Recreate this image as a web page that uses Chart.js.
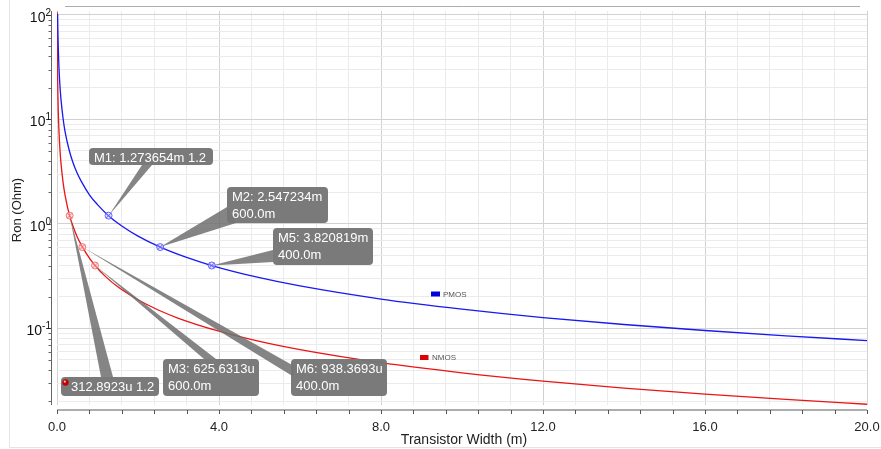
<!DOCTYPE html>
<html>
<head>
<meta charset="utf-8">
<script src="https://cdn.jsdelivr.net/npm/chart.js@4.4.0/dist/chart.umd.min.js"></script>
<style>
  html, body { margin: 0; padding: 0; background: #fff; }
</style>
</head>
<body>
<canvas id="ronChart" width="881" height="449"></canvas>
<script>
// Ron vs transistor width (width in mm)
const pmosWidth = [0.015, 0.02, 0.03, 0.04, 0.06, 0.08, 0.1, 0.15, 0.2, 0.3, 0.4, 0.5, 0.6, 0.8, 1.0, 1.27, 1.6, 2.0, 2.55, 3.2, 3.82, 5.0, 6.0, 8.0, 10.0, 12.0, 14.0, 16.0, 18.0, 20.0];
const pmosRon = [102, 76, 51, 38, 25.5, 19.1, 15.3, 10.2, 7.6, 5.1, 3.8, 3.05, 2.55, 1.9, 1.53, 1.2, 0.955, 0.765, 0.6, 0.478, 0.4, 0.306, 0.255, 0.191, 0.153, 0.127, 0.109, 0.0955, 0.085, 0.0765];

const nmosWidth = [0.0035, 0.005, 0.0075, 0.01, 0.015, 0.02, 0.03, 0.05, 0.075, 0.1, 0.15, 0.2, 0.31, 0.4, 0.5, 0.63, 0.8, 0.94, 1.2, 1.5, 2.0, 2.5, 3.0, 4.0, 5.0, 6.0, 8.0, 10.0, 12.0, 14.0, 16.0, 18.0, 20.0];
const nmosRon = [107, 75, 50, 37.5, 25, 18.8, 12.5, 7.5, 5.0, 3.75, 2.5, 1.88, 1.2, 0.94, 0.75, 0.6, 0.47, 0.4, 0.313, 0.25, 0.188, 0.15, 0.125, 0.094, 0.075, 0.0626, 0.047, 0.0376, 0.0313, 0.0268, 0.0235, 0.0209, 0.0188];

const xTickValues = [0, 4, 8, 12, 16, 20];
const xTickLabels = ['0.0', '4.0', '8.0', '12.0', '16.0', '20.0'];
const yTickExponents = [2, 1, 0, -1];

// markers placed on the curves
const markerSeries = ['PMOS', 'PMOS', 'PMOS', 'NMOS', 'NMOS', 'NMOS'];
const markerWidth = [1.273654, 2.547234, 3.820819, 0.3128923, 0.6256313, 0.9383693];
const markerRon = [1.2, 0.6, 0.4, 1.2, 0.6, 0.4];
const markerText = [
    ['M1: 1.273654m 1.2'],
    ['M2: 2.547234m', '600.0m'],
    ['M5: 3.820819m', '400.0m'],
    ['312.8923u 1.2'],
    ['M3: 625.6313u', '600.0m'],
    ['M6: 938.3693u', '400.0m']
];

// callout box geometry in canvas pixels (x, y, w, h) and where the pointer leaves the box
const calloutLayout = [
    { box: [89, 148, 124, 17], base: [[142, 165], [152, 165]] },
    { box: [227, 187, 101, 36], base: [[227, 207], [236, 223]] },
    { box: [273, 228, 100, 37], base: [[273, 250], [273, 262]] },
    { box: [61, 377, 98, 19], base: [[101, 377], [113, 377]], dot: true },
    { box: [163, 359, 96, 37], base: [[294, 366], [294, 377]] },
    { box: [291, 359, 96, 37], base: [[204, 359], [216, 359]] }
];

const FONT = '"Liberation Sans", Arial, sans-serif';

function toPoints(xs, ys) {
    return xs.map((x, i) => ({ x: x, y: ys[i] }));
}

const decorPlugin = {
    id: 'decor',
    afterDatasetsDraw(chart) {
        const { ctx, scales: { x, y } } = chart;
        ctx.save();

        // pointers
        markerWidth.forEach((w, i) => {
            const px = x.getPixelForValue(w);
            const py = y.getPixelForValue(markerRon[i]);
            const b = calloutLayout[i].base;
            ctx.fillStyle = 'rgba(112,112,112,0.85)';
            ctx.beginPath();
            ctx.moveTo(b[0][0], b[0][1]);
            ctx.lineTo(b[1][0], b[1][1]);
            ctx.lineTo(px, py);
            ctx.closePath();
            ctx.fill();
        });

        // marker glyphs
        markerWidth.forEach((w, i) => {
            const px = x.getPixelForValue(w);
            const py = y.getPixelForValue(markerRon[i]);
            const isP = markerSeries[i] === 'PMOS';
            ctx.strokeStyle = isP ? 'rgba(90,90,255,0.9)' : 'rgba(240,110,110,0.9)';
            ctx.fillStyle = isP ? 'rgba(200,200,255,0.5)' : 'rgba(255,200,200,0.5)';
            ctx.lineWidth = 1;
            ctx.beginPath();
            ctx.arc(px, py, 3.5, 0, Math.PI * 2);
            ctx.fill();
            ctx.stroke();
            ctx.beginPath();
            ctx.moveTo(px - 2.4, py - 2.4); ctx.lineTo(px + 2.4, py + 2.4);
            ctx.moveTo(px + 2.4, py - 2.4); ctx.lineTo(px - 2.4, py + 2.4);
            ctx.stroke();
        });

        // boxes with text
        calloutLayout.forEach((c, i) => {
            const [bx, by, bw, bh] = c.box;
            ctx.fillStyle = 'rgba(118,118,118,0.97)';
            ctx.beginPath();
            ctx.roundRect(bx, by, bw, bh, 4);
            ctx.fill();
            let tx = bx + 5;
            if (c.dot) {
                ctx.fillStyle = '#c40000';
                ctx.beginPath();
                ctx.arc(bx + 4.5, by + 5.5, 3.2, 0, Math.PI * 2);
                ctx.fill();
                ctx.fillStyle = 'rgba(255,255,255,0.8)';
                ctx.beginPath();
                ctx.arc(bx + 3.8, by + 4.6, 1.1, 0, Math.PI * 2);
                ctx.fill();
                tx = bx + 10;
            }
            ctx.fillStyle = '#ffffff';
            ctx.font = '13px ' + FONT;
            ctx.textAlign = 'left';
            ctx.textBaseline = 'alphabetic';
            markerText[i].forEach((line, k) => {
                ctx.fillText(line, tx, by + 14 + k * 17.3);
            });
        });
        ctx.restore();
    },
    afterDraw(chart) {
        const { ctx, chartArea: a, scales: { x, y } } = chart;
        ctx.save();

        // outer panel edges
        ctx.strokeStyle = '#e4e4e4';
        ctx.lineWidth = 1;
        ctx.beginPath();
        ctx.moveTo(9.5, 0); ctx.lineTo(9.5, 447.5); ctx.lineTo(881, 447.5);
        ctx.stroke();
        ctx.strokeStyle = '#a6aeb5';
        ctx.beginPath();
        ctx.moveTo(65, 6.5); ctx.lineTo(860, 6.5);
        ctx.stroke();

        // x axis
        const axY = a.bottom + 5;
        ctx.strokeStyle = '#adadad';
        ctx.lineWidth = 2;
        ctx.beginPath();
        ctx.moveTo(a.left, axY); ctx.lineTo(a.right, axY);
        ctx.stroke();
        ctx.strokeStyle = '#555';
        ctx.lineWidth = 1;
        x.ticks.forEach(t => {
            const px = Math.round(x.getPixelForValue(t.value)) + 0.5;
            ctx.beginPath();
            ctx.moveTo(px, axY); ctx.lineTo(px, axY + 4);
            ctx.stroke();
        });
        ctx.fillStyle = '#222';
        ctx.font = '13px ' + FONT;
        ctx.textAlign = 'center';
        ctx.textBaseline = 'middle';
        xTickValues.forEach((v, i) => {
            ctx.fillText(xTickLabels[i], x.getPixelForValue(v), 427);
        });

        // y axis
        const axX = a.left - 5.5;
        ctx.strokeStyle = '#666';
        ctx.beginPath();
        ctx.moveTo(axX, a.top); ctx.lineTo(axX, a.bottom);
        ctx.stroke();
        y.ticks.forEach(t => {
            const py = Math.round(y.getPixelForValue(t.value)) + 0.5;
            const len = t.major ? 5 : 3;
            ctx.beginPath();
            ctx.moveTo(axX, py); ctx.lineTo(axX - len, py);
            ctx.stroke();
        });
        ctx.fillStyle = '#111';
        yTickExponents.forEach(e => {
            const py = y.getPixelForValue(Math.pow(10, e));
            const sup = e < 0 ? '-' + Math.abs(e) : String(e);
            ctx.font = '10px ' + FONT;
            const supW = ctx.measureText(sup).width;
            ctx.textAlign = 'left';
            ctx.textBaseline = 'alphabetic';
            const right = 51 - supW;
            ctx.fillText(sup, right, py + 1);
            ctx.font = '14px ' + FONT;
            ctx.textAlign = 'right';
            ctx.fillText('10', right, py + 7);
        });

        // axis titles
        ctx.fillStyle = '#222';
        ctx.font = '14px ' + FONT;
        ctx.textAlign = 'center';
        ctx.textBaseline = 'middle';
        ctx.fillText('Transistor Width (m)', 464, 440);
        ctx.save();
        ctx.translate(17, 210);
        ctx.rotate(-Math.PI / 2);
        ctx.font = '13px ' + FONT;
        ctx.fillText('Ron (Ohm)', 0, 0);
        ctx.restore();

        // in-plot series labels
        ctx.font = '8px ' + FONT;
        ctx.textAlign = 'left';
        ctx.fillStyle = '#0000dd';
        ctx.fillRect(431, 291.5, 9, 5);
        ctx.fillStyle = '#dd0000';
        ctx.fillRect(420, 355, 8.5, 5);
        ctx.fillStyle = '#555';
        ctx.fillText('PMOS', 443, 294.5);
        ctx.fillText('NMOS', 432, 357.8);

        ctx.restore();
    }
};

const ctx = document.getElementById('ronChart').getContext('2d');

new Chart(ctx, {
    type: 'scatter',
    data: {
        datasets: [
            {
                label: 'PMOS',
                data: toPoints(pmosWidth, pmosRon),
                showLine: true,
                borderColor: '#1818f2',
                borderWidth: 1.3,
                pointRadius: 0,
                cubicInterpolationMode: 'monotone'
            },
            {
                label: 'NMOS',
                data: toPoints(nmosWidth, nmosRon),
                showLine: true,
                borderColor: '#ea1414',
                borderWidth: 1.3,
                pointRadius: 0,
                cubicInterpolationMode: 'monotone'
            }
        ]
    },
    options: {
        responsive: false,
        animation: false,
        layout: { padding: { left: 57, right: 14, top: 11, bottom: 44 } },
        plugins: {
            legend: { display: false },
            tooltip: { enabled: false }
        },
        scales: {
            x: {
                type: 'linear',
                min: 0,
                max: 20,
                ticks: { display: false, stepSize: 0.8 },
                border: { display: false },
                grid: {
                    drawTicks: false,
                    color: c => {
                        const v = c.tick ? c.tick.value / 4 : 0.5;
                        return Math.abs(v - Math.round(v)) < 1e-6 ? '#d2d2d2' : '#ebebeb';
                    }
                }
            },
            y: {
                type: 'logarithmic',
                min: 0.0185,
                max: 109,
                ticks: { display: false },
                border: { display: false },
                grid: {
                    drawTicks: false,
                    color: c => (c.tick && c.tick.major ? '#d2d2d2' : '#ebebeb')
                },
                afterBuildTicks: scale => {
                    const list = [];
                    for (let e = -2; e <= 2; e++) {
                        for (let m = 1; m < 10; m++) {
                            const v = m * Math.pow(10, e);
                            if (v >= scale.min && v <= scale.max) list.push({ value: v, major: m === 1 });
                        }
                    }
                    scale.ticks = list;
                }
            }
        }
    },
    plugins: [decorPlugin]
});
</script>
</body>
</html>
